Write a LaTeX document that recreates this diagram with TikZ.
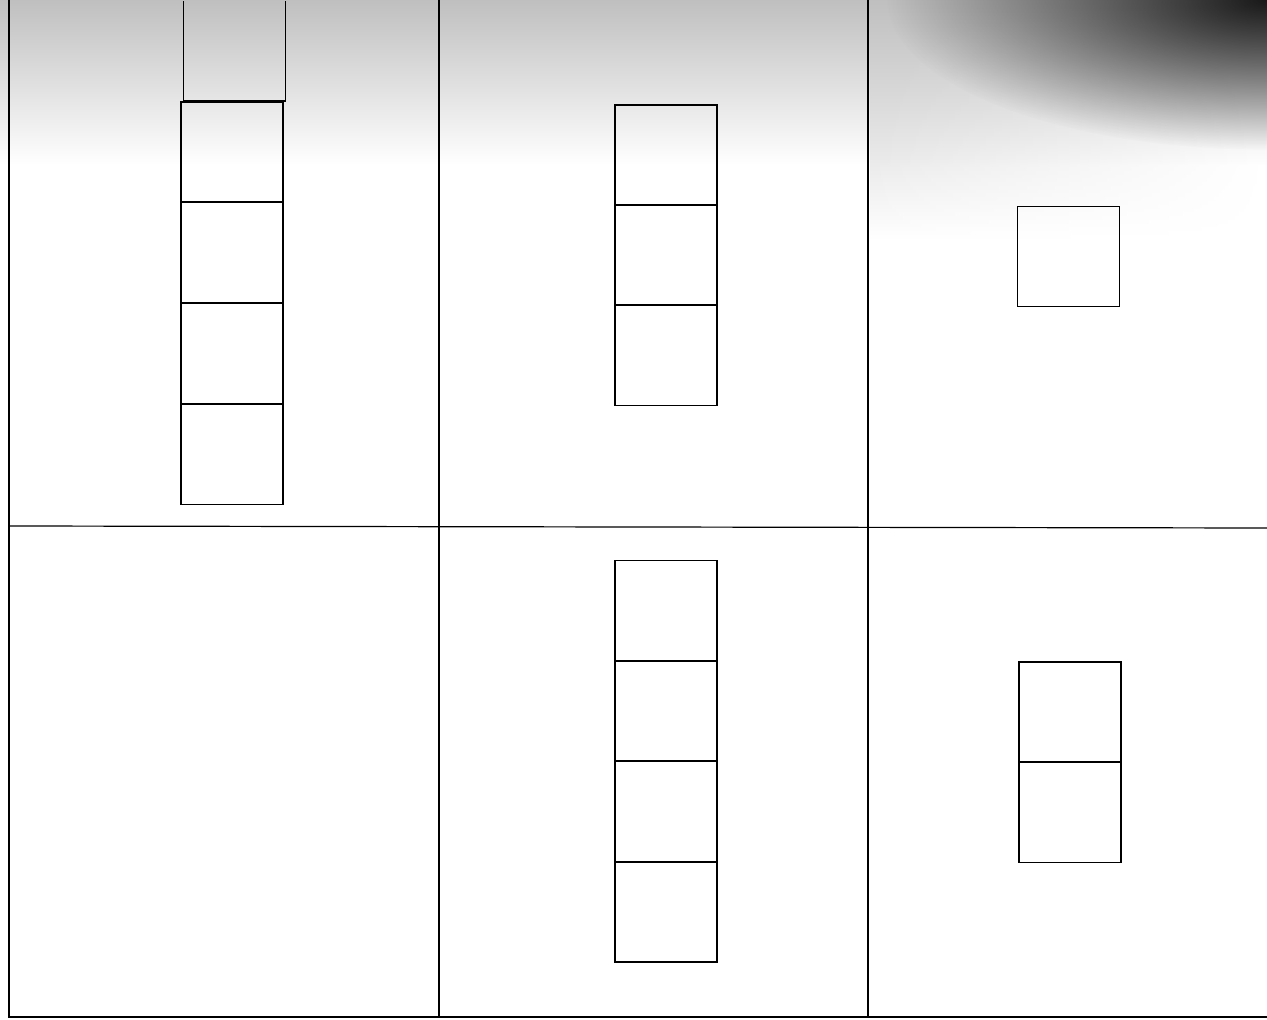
\documentclass[tikz,border=0pt]{standalone}
\usetikzlibrary{fadings}
\tikzfading[name=cornerfade, inner color=transparent!0, outer color=transparent!100]
\begin{document}
\begin{tikzpicture}[x=0.5pt,y=-0.5pt,
  sq/.style={draw=black, line width=0.75pt, inner sep=0pt, outer sep=0pt, minimum width=51pt, minimum height=50pt},
  grid/.style={draw=black, line width=0.6pt}]
\useasboundingbox (0,0) rectangle (1267,1020);
% scanner shading
\shade[top color=gray!50, bottom color=white] (0,0) rectangle (1267,165);
\shade[top color=gray!50, bottom color=white, path fading=east] (870,0) rectangle (1267,240);
\fill[black!90, path fading=cornerfade] (1267,0) ellipse [x radius=380, y radius=150];
% grid
\coordinate (tl) at (9,0); \coordinate (bl) at (9,1017);
\coordinate (v1t) at (439,0); \coordinate (v1b) at (439,1017);
\coordinate (v2t) at (868,0); \coordinate (v2b) at (868,1017);
\coordinate (ml) at (9,526); \coordinate (mr) at (1267,528);
\coordinate (br) at (1267,1017);
\draw[grid] (tl) -- (bl) -- (br);
\draw[grid] (v1t) -- (v1b);
\draw[grid] (v2t) -- (v2b);
\draw[grid] (ml) -- (mr);
% cell 1
\node[sq, draw=none] (a0) at (234.5,51) {};
\draw[line width=0.75pt] (a0.north west) -- (a0.south west) -- (a0.south east) -- (a0.north east);
\node[sq] (a1) at (232,152) {};
\node[sq] (a2) at (232,252.5) {};
\node[sq] (a3) at (232,353.5) {};
\node[sq] (a4) at (232,454.5) {};
% cell 2
\node[sq] (b1) at (666,155) {};
\node[sq] (b2) at (666,255) {};
\node[sq] (b3) at (666,355.5) {};
% cell 3
\node[sq] (c1) at (1068.5,256.5) {};
% cell 5
\node[sq] (d1) at (666,610.5) {};
\node[sq] (d2) at (666,711) {};
\node[sq] (d3) at (666,811.5) {};
\node[sq] (d4) at (666,912) {};
% cell 6
\node[sq] (e1) at (1070,712) {};
\node[sq] (e2) at (1070,812.5) {};
\end{tikzpicture}
\end{document}
